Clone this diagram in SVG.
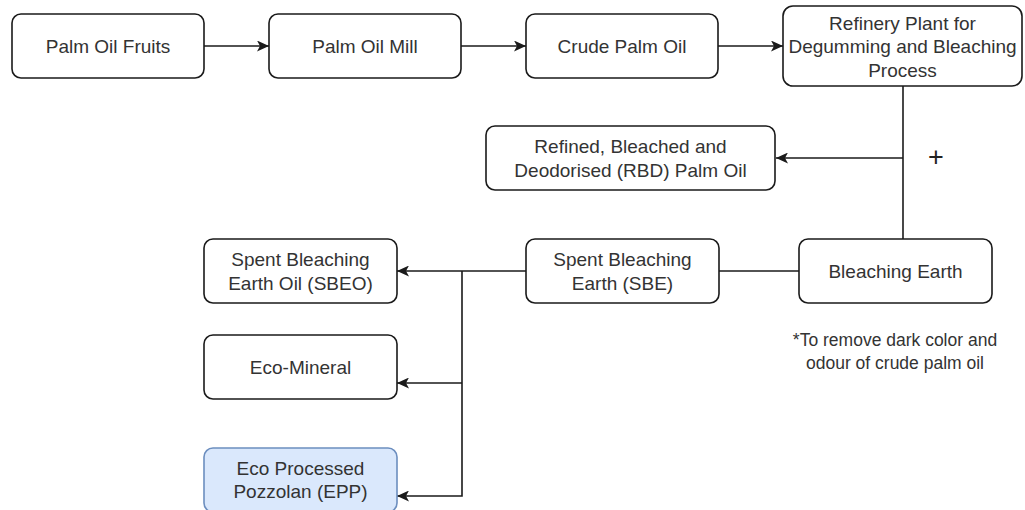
<svg xmlns="http://www.w3.org/2000/svg" width="1025" height="510" viewBox="0 0 1025 510">
<style>
.box{fill:#ffffff;stroke:#1a1a1a;stroke-width:1.6}
.blue{fill:#dae8fc;stroke:#6c8ebf;stroke-width:1.6}
.t{font-family:"Liberation Sans",Arial,sans-serif;font-size:19px;fill:#333333;text-anchor:middle;dominant-baseline:central}
.n{font-family:"Liberation Sans",Arial,sans-serif;font-size:17.5px;fill:#333333;text-anchor:middle;dominant-baseline:central}
.p{font-family:"Liberation Sans",Arial,sans-serif;font-size:27px;fill:#222222;text-anchor:middle;dominant-baseline:central}
.c{fill:none;stroke:#1a1a1a;stroke-width:1.6}
.a{marker-end:url(#arr)}
</style>
<defs>
<marker id="arr" viewBox="0 0 12 11" refX="12" refY="5.5" markerWidth="12" markerHeight="11" markerUnits="userSpaceOnUse" orient="auto">
<path d="M0,0 L12,5.5 L0,11 L3,5.5 Z" fill="#1a1a1a"/>
</marker>
</defs>
<g id="connectors">
<path class="c a" d="M204,46 H269"/>
<path class="c a" d="M461,46 H526"/>
<path class="c a" d="M718,46 H783"/>
<path class="c" d="M903,86 V239"/>
<path class="c a" d="M903,158 H776"/>
<path class="c" d="M799,271 H719"/>
<path class="c a" d="M526,271 H397"/>
<path class="c a" d="M462,271 V496 H397"/>
<path class="c a" d="M462,383 H397"/>
</g>
<g id="palm-oil-fruits"><rect class="box" x="12" y="14" width="192" height="64" rx="9"/><text class="t" x="108" y="46">Palm Oil Fruits</text></g>
<g id="palm-oil-mill"><rect class="box" x="269" y="14" width="192" height="64" rx="9"/><text class="t" x="365" y="46">Palm Oil Mill</text></g>
<g id="crude-palm-oil"><rect class="box" x="526" y="14" width="192" height="64" rx="9"/><text class="t" x="622" y="46">Crude Palm Oil</text></g>
<g id="refinery"><rect class="box" x="783" y="6" width="239" height="80" rx="10"/><text class="t" x="902.5" y="23">Refinery Plant for</text><text class="t" x="902.5" y="46.5">Degumming and Bleaching</text><text class="t" x="902.5" y="70">Process</text></g>
<g id="rbd-palm-oil"><rect class="box" x="486" y="126" width="289" height="64" rx="9"/><text class="t" x="630.5" y="146.5">Refined, Bleached and</text><text class="t" x="630.5" y="170">Deodorised (RBD) Palm Oil</text></g>
<g id="plus"><text class="p" x="936" y="157">+</text></g>
<g id="bleaching-earth"><rect class="box" x="799" y="239" width="193" height="64" rx="9"/><text class="t" x="895.5" y="271">Bleaching Earth</text></g>
<g id="sbe"><rect class="box" x="526" y="239" width="193" height="64" rx="9"/><text class="t" x="622.5" y="259.5">Spent Bleaching</text><text class="t" x="622.5" y="283">Earth (SBE)</text></g>
<g id="sbeo"><rect class="box" x="204" y="239" width="193" height="64" rx="9"/><text class="t" x="300.5" y="259.5">Spent Bleaching</text><text class="t" x="300.5" y="283">Earth Oil (SBEO)</text></g>
<g id="eco-mineral"><rect class="box" x="204" y="335" width="193" height="64" rx="9"/><text class="t" x="300.5" y="367">Eco-Mineral</text></g>
<g id="epp"><rect class="blue" x="204" y="448" width="193" height="64" rx="9"/><text class="t" x="300.5" y="468">Eco Processed</text><text class="t" x="300.5" y="491.5">Pozzolan (EPP)</text></g>
<g id="note"><text class="n" x="895" y="340">*To remove dark color and</text><text class="n" x="895" y="363">odour of crude palm oil</text></g>
</svg>
